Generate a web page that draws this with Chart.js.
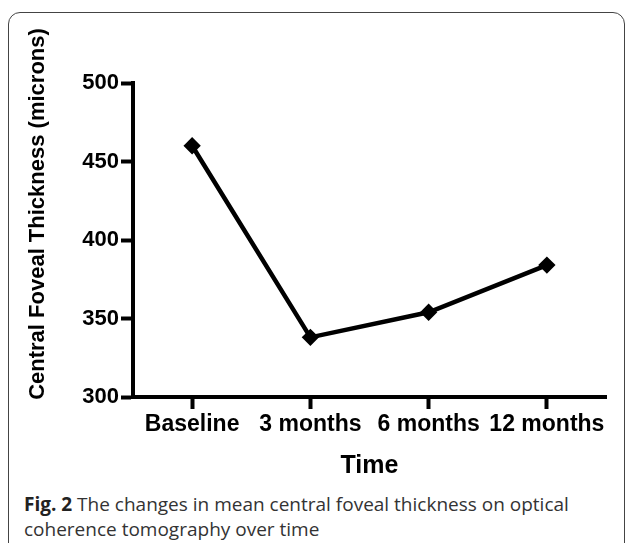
<!DOCTYPE html>
<html>
<head>
<meta charset="utf-8">
<script src="https://cdn.jsdelivr.net/npm/chart.js@4"></script>
<style>
  html, body { margin: 0; padding: 0; background: #fff; }
  body { width: 629px; height: 543px; position: relative; overflow: hidden; }
  #frame {
    position: absolute; left: 8px; top: 12px; width: 617px; height: 560px;
    border: 1.5px solid #444; border-radius: 12px; box-sizing: border-box;
  }
  #wrap { position: absolute; left: 0; top: 0; width: 629px; height: 490px; }
  #ytitle {
    position: absolute; left: 37px; top: 214px; width: 400px; margin-left: -200px;
    text-align: center; transform: translateY(-50%) rotate(-90deg);
    font-family: "Liberation Sans", Arial, sans-serif; font-weight: bold; font-size: 22px;
    line-height: 26px; color: #000; white-space: nowrap;
  }
  #caption {
    position: absolute; left: 24px; top: 492px; width: 590px;
    font-family: "Open Sans", sans-serif; font-size: 19px; line-height: 25px; color: #333;
  }
  #caption b { color: #222; }
</style>
</head>
<body>
<div id="frame"></div>
<div id="wrap"><canvas id="myChart"></canvas></div>
<div id="ytitle">Central Foveal Thickness (microns)</div>
<div id="caption"><b>Fig. 2</b> The changes in mean central foveal thickness on optical coherence tomography over time</div>
<script>
const categories = ['Baseline', '3 months', '6 months', '12 months'];
const thickness = [460, 338, 354, 384];
const yTicks = [300, 350, 400, 450, 500];

const axisFont = '"Liberation Sans", Arial, sans-serif';

const data = {
  labels: categories,
  datasets: [{
    data: thickness,
    borderColor: '#000',
    backgroundColor: '#000',
    borderWidth: 4.5,
    pointStyle: 'rectRot',
    pointRadius: 5.5,
    pointHoverRadius: 5.5,
    tension: 0,
  }]
};

const config = {
  type: 'line',
  data,
  options: {
    responsive: true,
    maintainAspectRatio: false,
    animation: false,
    layout: { padding: { left: 20, right: 23, top: 83, bottom: 5 } },
    plugins: { legend: { display: false }, tooltip: { enabled: false } },
    scales: {
      x: {
        offset: true,
        afterFit: function(scale) { scale.height = 88; },
        border: { display: true, width: 4, color: '#000' },
        grid: { offset: false, drawOnChartArea: false, tickLength: 12, tickWidth: 4, color: '#000' },
        ticks: { color: '#000', padding: 2, maxRotation: 0, autoSkip: false,
          font: { family: axisFont, size: 23, weight: 'bold' } },
        title: { display: true, text: 'Time', color: '#000', padding: 4,
          font: { family: axisFont, size: 25, weight: 'bold' } }
      },
      y: {
        min: yTicks[0],
        max: yTicks[yTicks.length - 1],
        afterFit: function(scale) { scale.width = 113; },
        afterBuildTicks: function(scale) { scale.ticks = yTicks.map(v => ({ value: v })); },
        border: { display: true, width: 4, color: '#000' },
        grid: { drawOnChartArea: false, tickLength: 12, tickWidth: 4, color: '#000' },
        ticks: { color: '#000', padding: 2,
          font: { family: axisFont, size: 22, weight: 'bold' } },
        // title is drawn as rotated text beside the canvas so it can sit higher, like the original
        title: { display: false }
      }
    }
  }
};

const myChart = new Chart(document.getElementById('myChart'), config);
</script>
</body>
</html>
